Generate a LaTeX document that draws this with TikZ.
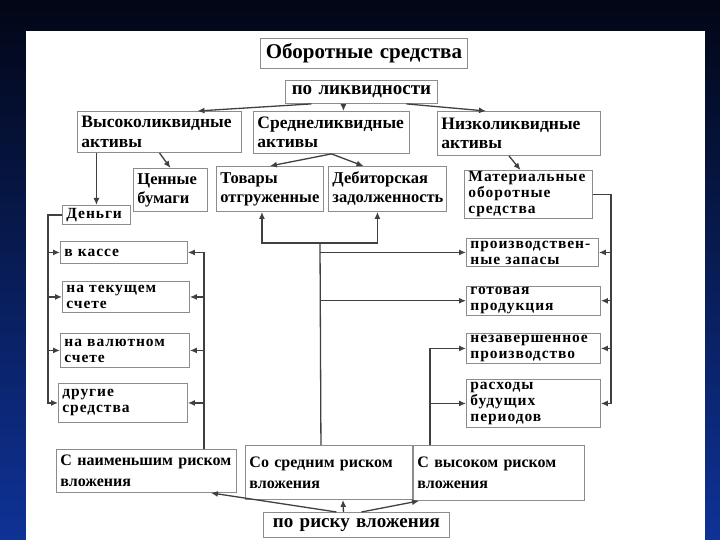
\documentclass[tikz,border=0pt]{standalone}
\usepackage{fontspec}
\setmainfont{Liberation Serif}
\newfontfamily\spc[LetterSpace=6]{Liberation Serif}
\usetikzlibrary{arrows.meta}
\hyphenpenalty=10000
\exhyphenpenalty=10000
\definecolor{bgtop}{RGB}{2,6,22}
\definecolor{bgbot}{RGB}{14,50,150}
\tikzset{
  box/.style={draw=black!45, line width=0.9pt, fill=white, anchor=north west, align=left, inner xsep=4pt, inner ysep=1pt},
  fbig/.style={font=\fontsize{21}{23}\selectfont\bfseries},
  fmid/.style={font=\fontsize{17.5}{19.5}\selectfont\bfseries},
  fsub/.style={font=\fontsize{16.5}{19}\selectfont\bfseries},
  fsm/.style={font=\spc\fontsize{15.5}{16}\selectfont\bfseries},
  frisk/.style={font=\fontsize{16}{21}\selectfont\bfseries},
  line/.style={draw=black!75, line width=1.3pt},
  arr/.style={line, -{Latex[length=7pt,width=6pt]}}
}
\begin{document}
\begin{tikzpicture}[x=1pt,y=-1pt]
  \fill[top color=bgtop, bottom color=bgbot] (0,0) rectangle (720,540);
  \fill[white] (26,31) rectangle (705,540);

  \node[box,fbig,align=center,text width=199,minimum height=30] at (260,38) (title) {Оборотные средства};
  \node[box,fbig,font=\fontsize{19}{21}\selectfont\bfseries,align=center,text width=144,minimum height=23] at (285,80) (liq) {по ликвидности};

  \node[box,fmid,text width=156,minimum height=41] at (77,111) (vys) {Высоколиквидные\\активы};
  \node[box,fmid,text width=148,minimum height=42] at (253,111) (sred) {Среднеликвидные\\активы};
  \node[box,fmid,text width=155,minimum height=44] at (437,111) (niz) {Низколиквидные\\активы};

  \node[box,fsub,text width=66,minimum height=43] at (133,168) (cen) {Ценные\\бумаги};
  \node[box,fsub,text width=99,minimum height=45] at (216,166) (tov) {Товары\\отгруженные};
  \node[box,fsub,text width=110,minimum height=45] at (328,166) (deb) {Дебиторская\\задолженность};
  \node[box,fsm,text width=60,minimum height=19] at (62,205) (den) {Деньги};
  \node[box,fsm,text width=120,minimum height=48] at (464,170) (mat) {Материальные\\оборотные\\средства};

  \node[box,fsm,text width=119,minimum height=22] at (60,241) (kassa) {в кассе};
  \node[box,fsm,text width=119,minimum height=31] at (62,281) (tek) {на текущем\\счете};
  \node[box,fsm,text width=121,minimum height=34] at (60,333) (val) {на валютном\\счете};
  \node[box,fsm,text width=121,minimum height=39] at (58,383) (drug) {другие\\средства};

  \node[box,fsm,text width=124,minimum height=28] at (466,238) (prz) {производствен-\\ные запасы};
  \node[box,fsm,text width=126,minimum height=27] at (466,286) (got) {готовая\\продукция};
  \node[box,fsm,text width=126,minimum height=30] at (466,333) (nez) {незавершенное\\производство};
  \node[box,fsm,text width=126,minimum height=48] at (466,379) (ras) {расходы\\будущих\\периодов};

  \node[box,frisk,text width=172,minimum height=43] at (56,449) (low) {С наименьшим риском\\вложения};
  \node[box,frisk,text width=159,minimum height=54] at (245,445) (mid) {Со средним риском\\вложения};
  \node[box,frisk,text width=163,minimum height=55] at (413,445) (hi) {С высоком риском\\вложения};
  \node[box,font=\fontsize{19}{21}\selectfont\bfseries,align=center,text width=178,minimum height=25] at (263,512) (risk) {по риску вложения};

  \draw[arr] ([xshift=-50]liq.south) -- ([xshift=38]vys.north);
  \draw[arr] ([xshift=-18]liq.south) -- ([xshift=12]sred.north);
  \draw[arr] ([xshift=45]liq.south) -- ([xshift=-33]niz.north);

  \draw[arr] (vys.south) -- (cen.north);
  \draw[arr] (den.north |- vys.south) -- (den.north);
  \draw[arr] (sred.south) -- (tov.north);
  \draw[arr] (sred.south) -- ([xshift=-24]deb.north);
  \draw[arr] ([xshift=-10]niz.south) -- ([xshift=-8]mat.north);

  \foreach \n in {kassa,tek,val,drug}
    \draw[arr] (den.west) -- ++(-14,0) |- (\n.west);
  \foreach \n in {kassa,tek,val,drug}
    \draw[arr] ([xshift=-33]low.north east) |- (\n.east);
  \foreach \n in {prz,got,nez,ras}
    \draw[arr] (mat.east) -- ++(18,0) |- (\n.east);
  \foreach \n in {nez,ras}
    \draw[arr] ([xshift=17]hi.north west) |- (\n.west);

  \coordinate (jm) at (320,243);
  \draw[line] ([xshift=-8]mid.north) -- (jm);
  \draw[arr] (jm) -| ([xshift=-8]tov.south);
  \draw[arr] (jm) -| ([xshift=-10]deb.south);
  \draw[arr] (jm |- prz.west) -- (prz.west);
  \draw[arr] (jm |- got.west) -- (got.west);

  \draw[arr] ([xshift=-20]risk.north) -- ([xshift=-26]low.south east);
  \draw[arr] ([xshift=-13]risk.north) -- ([xshift=14]mid.south);
  \draw[arr] ([xshift=5]risk.north) -- ([xshift=6]hi.south west);
\end{tikzpicture}
\end{document}
